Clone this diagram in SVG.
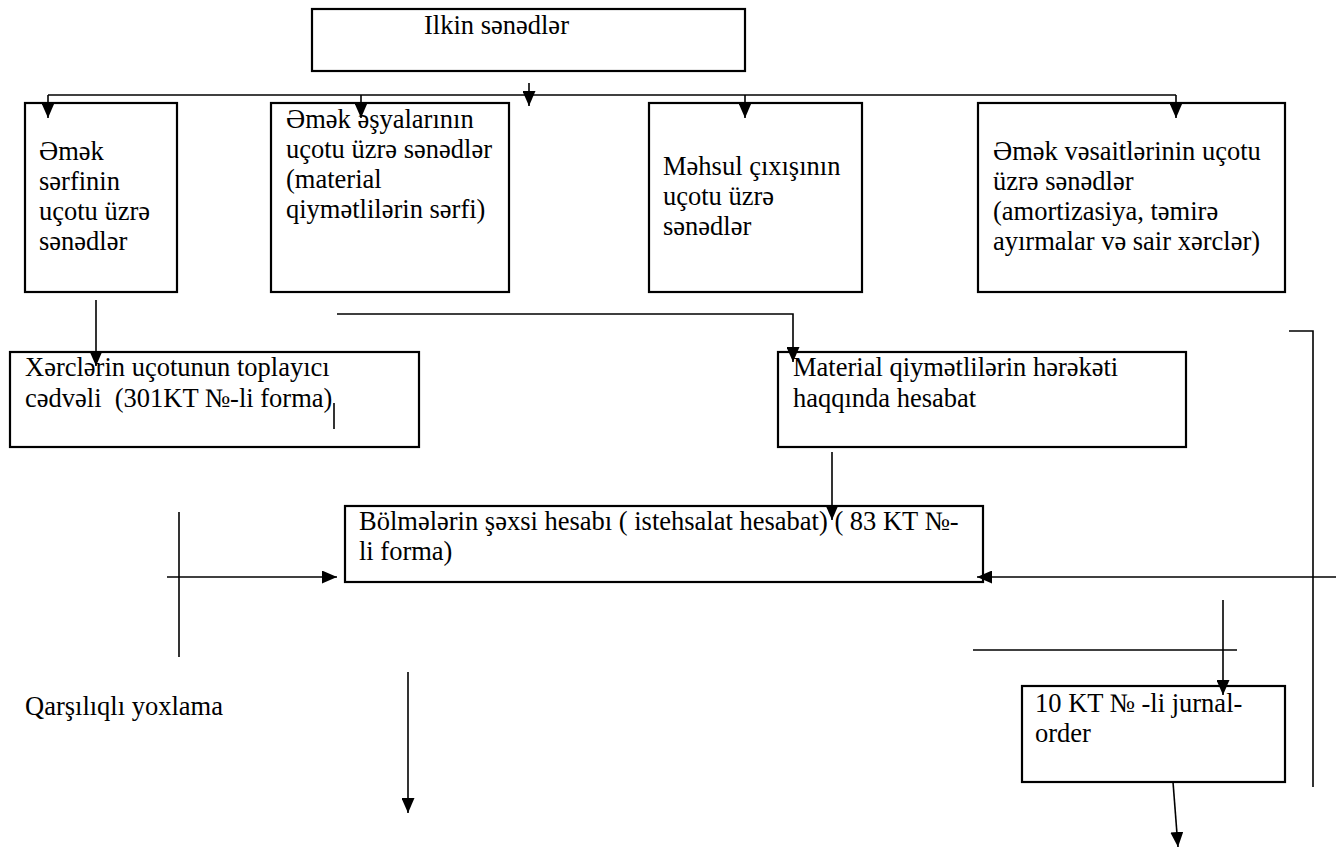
<svg xmlns="http://www.w3.org/2000/svg" width="1342" height="850" viewBox="0 0 1342 850">
<style>
  .box { fill: #fff; stroke: #000; stroke-width: 2.2; }
  .t { font-family: "Liberation Serif", "DejaVu Serif", "Times New Roman", serif; font-size: 26.5px; fill: #000; white-space: pre; }
  .c { fill: none; stroke: #000; stroke-width: 1.6; }
</style>
<defs>
  <marker id="ah" markerUnits="userSpaceOnUse" markerWidth="15" markerHeight="13" refX="15" refY="6.5" orient="auto">
    <path d="M0,0 L15,6.5 L0,13 z" fill="#000"/>
  </marker>
</defs>
<rect width="1342" height="850" fill="#fff"/>

<g id="n-ilkin">
  <rect class="box" x="312" y="9" width="433" height="62"/>
  <text class="t" x="424" y="34">Ilkin sənədlər</text>
</g>

<g id="n-emek-serfi">
  <rect class="box" x="25" y="103" width="152" height="189"/>
  <text class="t" x="39" y="160">Əmək</text>
  <text class="t" x="39" y="190">sərfinin</text>
  <text class="t" x="39" y="220">uçotu üzrə</text>
  <text class="t" x="39" y="250">sənədlər</text>
</g>

<g id="n-emek-esyalari">
  <rect class="box" x="271" y="103" width="238" height="189"/>
  <text class="t" x="286" y="128">Əmək əşyalarının</text>
  <text class="t" x="286" y="158">uçotu üzrə sənədlər</text>
  <text class="t" x="286" y="188">(material</text>
  <text class="t" x="286" y="218">qiymətlilərin sərfi)</text>
</g>

<g id="n-mehsul">
  <rect class="box" x="649" y="103" width="213" height="189"/>
  <text class="t" x="663" y="175">Məhsul çıxışının</text>
  <text class="t" x="663" y="205">uçotu üzrə</text>
  <text class="t" x="663" y="235">sənədlər</text>
</g>

<g id="n-emek-vesaitleri">
  <rect class="box" x="978" y="103" width="307" height="189"/>
  <text class="t" x="993" y="160">Əmək vəsaitlərinin uçotu</text>
  <text class="t" x="993" y="190">üzrə sənədlər</text>
  <text class="t" x="993" y="220">(amortizasiya, təmirə</text>
  <text class="t" x="993" y="250">ayırmalar və sair xərclər)</text>
</g>

<g id="n-xerclerin">
  <rect class="box" x="10" y="352" width="409" height="95"/>
  <text class="t" x="25" y="376">Xərclərin uçotunun toplayıcı</text>
  <text class="t" x="25" y="407">cədvəli  (301KT №-li forma)</text>
</g>

<g id="n-material">
  <rect class="box" x="778" y="352" width="408" height="95"/>
  <text class="t" x="793" y="376">Material qiymətlilərin hərəkəti</text>
  <text class="t" x="793" y="407">haqqında hesabat</text>
</g>

<g id="n-bolmeler">
  <rect class="box" x="345" y="506" width="638" height="76"/>
  <text class="t" x="359" y="530">Bölmələrin şəxsi hesabı ( istehsalat hesabat) ( 83 KT №-</text>
  <text class="t" x="359" y="560">li forma)</text>
</g>

<g id="n-jurnal">
  <rect class="box" x="1022" y="686" width="263" height="96"/>
  <text class="t" x="1035" y="712">10 KT № -li jurnal-</text>
  <text class="t" x="1035" y="742">order</text>
</g>

<g id="n-qarsiliqli">
  <text class="t" x="25" y="715">Qarşılıqlı yoxlama</text>
</g>

<g id="connectors">
  <line class="c" x1="48" y1="95" x2="1176" y2="95"/>
  <line class="c" x1="48" y1="95" x2="48" y2="118" marker-end="url(#ah)"/>
  <line class="c" x1="361" y1="95" x2="361" y2="118" marker-end="url(#ah)"/>
  <line class="c" x1="745" y1="95" x2="745" y2="118" marker-end="url(#ah)"/>
  <line class="c" x1="1176" y1="95" x2="1176" y2="118" marker-end="url(#ah)"/>
  <line class="c" x1="529" y1="83" x2="529" y2="106" marker-end="url(#ah)"/>

  <line class="c" x1="96" y1="300" x2="96" y2="366" marker-end="url(#ah)"/>
  <polyline class="c" points="337,314 793,314 793,362" marker-end="url(#ah)"/>
  <line class="c" x1="334" y1="403" x2="334" y2="429"/>

  <line class="c" x1="832" y1="452" x2="832" y2="520" marker-end="url(#ah)"/>

  <line class="c" x1="179" y1="512" x2="179" y2="657"/>
  <line class="c" x1="167" y1="577" x2="337" y2="577" marker-end="url(#ah)"/>

  <line class="c" x1="1336" y1="577" x2="977" y2="577" marker-end="url(#ah)"/>
  <polyline class="c" points="1289,331 1313,331 1313,787"/>

  <line class="c" x1="1223" y1="600" x2="1223" y2="695" marker-end="url(#ah)"/>
  <line class="c" x1="973" y1="650" x2="1237" y2="650"/>

  <line class="c" x1="1173" y1="782" x2="1178" y2="847" marker-end="url(#ah)"/>

  <line class="c" x1="408" y1="672" x2="408" y2="813" marker-end="url(#ah)"/>
</g>
</svg>
